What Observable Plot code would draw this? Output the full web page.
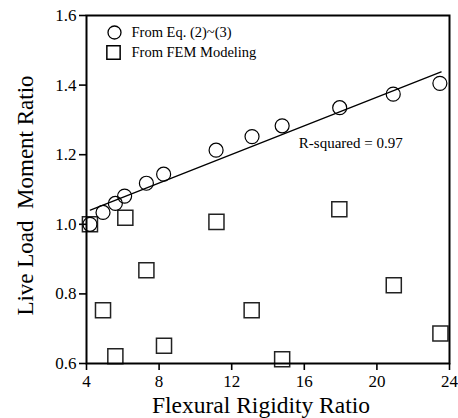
<!DOCTYPE html>
<html>
<head>
<meta charset="utf-8">
<script src="https://cdn.jsdelivr.net/npm/d3@7"></script>
<script src="https://cdn.jsdelivr.net/npm/@observablehq/plot@0.6"></script>
<style>
  html, body { margin: 0; padding: 0; background: #fff; }
  svg { display: block; }
</style>
</head>
<body>
<div id="chart"></div>
<script>
// Circles: From Eq. (2)~(3)
const eqX = [4.19, 4.91, 5.59, 6.10, 7.30, 8.25, 11.14, 13.12, 14.78, 17.95, 20.90, 23.47];
const eqY = [1.000, 1.034, 1.060, 1.081, 1.118, 1.144, 1.213, 1.252, 1.283, 1.335, 1.374, 1.405];
// Squares: From FEM Modeling
const femX = [4.19, 4.91, 5.59, 6.14, 7.30, 8.27, 11.16, 13.10, 14.78, 17.93, 20.93, 23.50];
const femY = [1.000, 0.753, 0.621, 1.019, 0.868, 0.651, 1.007, 0.753, 0.612, 1.043, 0.825, 0.686];
// Fitted line through the Eq. points
const fitX = [4.21, 23.54];
const fitY = [1.041, 1.438];
const xTicks = [4, 8, 12, 16, 20, 24];
const yTicks = [0.6, 0.8, 1.0, 1.2, 1.4, 1.6];
const legendLabels = ["From Eq. (2)~(3)", "From FEM Modeling"];
const rsqLabel = "R-squared = 0.97";
const rsqPos = [15.7, 1.233];
const xLabel = "Flexural Rigidity Ratio";
const yLabel = "Live Load\u00a0 Moment Ratio";

const eqData = eqX.map((x, i) => ({x, y: eqY[i]}));
const femData = femX.map((x, i) => ({x, y: femY[i]}));
const fitData = fitX.map((x, i) => ({x, y: fitY[i]}));

const serif = "Liberation Serif";

const chart = Plot.plot({
  width: 458,
  height: 418,
  marginLeft: 86,
  marginRight: 9,
  marginTop: 15,
  marginBottom: 55,
  style: {fontFamily: serif, fontSize: "15px", color: "black", background: "white"},
  x: {domain: [4, 24]},
  y: {domain: [0.6, 1.6]},
  marks: [
    Plot.axisX({ticks: xTicks, tickSize: 7, tickPadding: 4, strokeWidth: 1.6, label: null, fontSize: 17, fontFamily: serif}),
    Plot.axisY({ticks: yTicks, tickSize: 7, tickPadding: 3, strokeWidth: 1.6, label: null, tickFormat: d3.format(".1f"), fontSize: 17, fontFamily: serif}),
    Plot.line(fitData, {x: "x", y: "y", stroke: "black", strokeWidth: 1.3}),
    Plot.dot(femData, {x: "x", y: "y", symbol: "square", r: 8.5, stroke: "#222", strokeWidth: 1.5, fill: "none"}),
    Plot.dot(eqData, {x: "x", y: "y", symbol: "circle", r: 7, stroke: "black", strokeWidth: 1.2, fill: "none"}),
    // legend
    Plot.dot([legendLabels[0]], {frameAnchor: "top-left", dx: 28, dy: 17, symbol: "circle", r: 6.5, stroke: "black", strokeWidth: 1.3, fill: "none"}),
    Plot.dot([legendLabels[1]], {frameAnchor: "top-left", dx: 27, dy: 37, symbol: "square", r: 7.5, stroke: "black", strokeWidth: 1.5, fill: "none"}),
    Plot.text([legendLabels[0]], {frameAnchor: "top-left", dx: 45, dy: 17, text: (d) => d, textAnchor: "start", lineAnchor: "middle", fontSize: 14.5, fontFamily: serif}),
    Plot.text([legendLabels[1]], {frameAnchor: "top-left", dx: 45, dy: 37, text: (d) => d, textAnchor: "start", lineAnchor: "middle", fontSize: 14.5, fontFamily: serif}),
    Plot.frame({stroke: "black", strokeWidth: 2}),
    Plot.text([xLabel], {frameAnchor: "bottom", dx: -7, dy: 42, text: (d) => d, textAnchor: "middle", lineAnchor: "middle", fontSize: 23.5, fontFamily: serif}),
    Plot.text([yLabel], {frameAnchor: "left", dx: -61, dy: 6, rotate: -90, text: (d) => d, textAnchor: "middle", lineAnchor: "middle", fontSize: 23, fontFamily: serif}),
    Plot.text([rsqLabel], {x: () => rsqPos[0], y: () => rsqPos[1], text: (d) => d, textAnchor: "start", lineAnchor: "middle", fontSize: 15, fontFamily: serif})
  ]
});

document.getElementById("chart").appendChild(chart);
</script>
</body>
</html>
